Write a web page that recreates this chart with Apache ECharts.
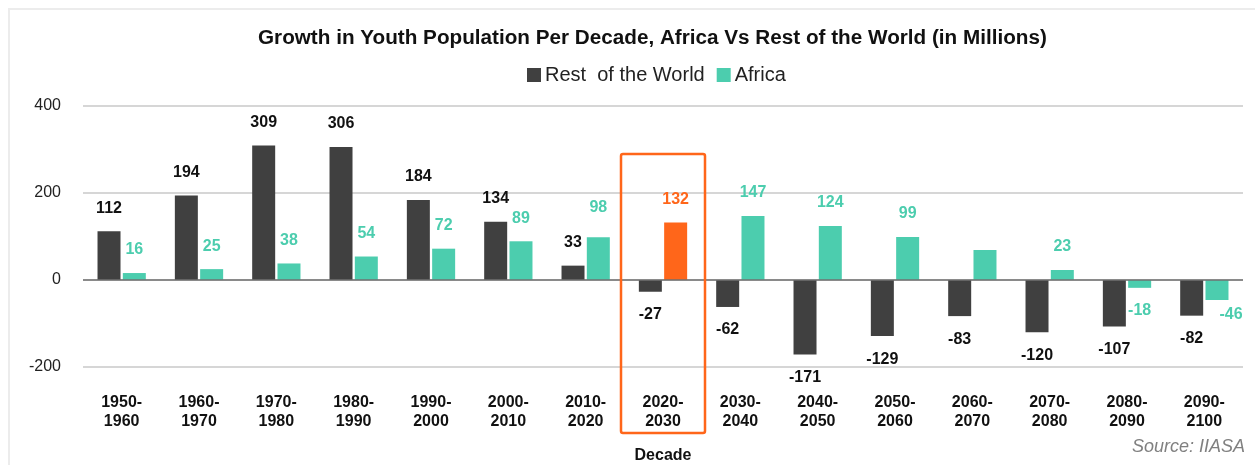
<!DOCTYPE html>
<html>
<head>
<meta charset="utf-8">
<title>Youth Population Growth</title>
<script src="https://cdn.jsdelivr.net/npm/echarts@6/dist/echarts.min.js"></script>
<style>
  html, body { margin: 0; padding: 0; background: #fff; }
  #frame { position: absolute; left: 8px; top: 8px; right: 0; bottom: 0; border-top: 2px solid #ececec; border-left: 2px solid #ececec; }
  #chart { position: absolute; left: 0; top: 0; width: 1255px; height: 465px; }
</style>
</head>
<body>
<div id="frame"></div>
<div id="chart"></div>
<script>
// data
const decades = ['1950-\n1960', '1960-\n1970', '1970-\n1980', '1980-\n1990', '1990-\n2000',
  '2000-\n2010', '2010-\n2020', '2020-\n2030', '2030-\n2040', '2040-\n2050', '2050-\n2060',
  '2060-\n2070', '2070-\n2080', '2080-\n2090', '2090-\n2100'];
const restOfWorld = [112, 194, 309, 306, 184, 134, 33, -27, -62, -171, -129, -83, -120, -107, -82];
const africa = [16, 25, 38, 54, 72, 89, 98, 132, 147, 124, 99, 69, 23, -18, -46];
const yTicks = [-200, 0, 200, 400];

const highlightIndex = 7; // 2020-2030
const unlabelledAfrica = [11]; // 2060-2070 has no label in the original

const DARK = '#404040';
const TEAL = '#4ccdae';
const ORANGE = '#ff661a';
const FONT = '"Liberation Sans", Arial, sans-serif';

const chart = echarts.init(document.getElementById('chart'), null, { renderer: 'canvas' });

const africaData = africa.map((v, i) => {
  const item = { value: v };
  if (i === highlightIndex) {
    item.itemStyle = { color: ORANGE };
    item.label = { color: ORANGE };
  }
  if (unlabelledAfrica.includes(i)) {
    item.label = { show: false };
  }
  if (v === -46) {
    item.label = { offset: [14, -8] };
  }
  if (v === 98) {
    item.label = { offset: [0, -7] };
  }
  return item;
});

const sourceText = {
  type: 'text',
  right: 10,
  top: 438,
  style: { text: 'Source: IIASA', font: 'italic 18px ' + FONT, fill: '#808080' }
};

chart.setOption({
  animation: false,
  textStyle: { fontFamily: FONT },
  title: {
    text: 'Growth in Youth Population Per Decade, Africa Vs Rest of the World (in Millions)',
    left: 253,
    top: 23,
    textStyle: { fontSize: 20.7, fontWeight: 'bold', color: '#111', fontFamily: FONT }
  },
  legend: {
    data: ['Rest  of the World', 'Africa'],
    left: 522,
    top: 60,
    icon: 'rect',
    itemWidth: 14,
    itemHeight: 14,
    itemGap: 12,
    textStyle: { fontSize: 20, color: '#222', padding: [0, 0, 0, -1] }
  },
  grid: { left: 83, right: 12, top: 106, bottom: 98, containLabel: false, outerBoundsMode: 'none' },
  xAxis: {
    type: 'category',
    data: decades,
    name: 'Decade',
    nameLocation: 'middle',
    nameGap: 81,
    nameTextStyle: { fontSize: 16, fontWeight: 'bold', color: '#111' },
    axisLine: { show: false },
    axisTick: { show: false },
    axisLabel: { interval: 0, fontSize: 16, fontWeight: 'bold', color: '#111', margin: 26, lineHeight: 19 }
  },
  yAxis: {
    type: 'value',
    min: yTicks[0],
    max: yTicks[yTicks.length - 1],
    interval: 200,
    axisLabel: { fontSize: 16, color: '#222', margin: 22 },
    splitLine: { lineStyle: { color: '#d6d6d6', width: 2 } }
  },
  series: [
    {
      name: 'Rest  of the World',
      type: 'bar',
      data: restOfWorld,
      barWidth: 23,
      barGap: '10%',
      itemStyle: { color: DARK },
      label: { show: true, position: 'outside', distance: 15, fontSize: 16, fontWeight: 'bold', color: '#111' },
      markLine: {
        silent: true,
        symbol: 'none',
        label: { show: false },
        lineStyle: { color: '#707070', width: 1.5, type: 'solid' },
        data: [{ yAxis: 0 }]
      }
    },
    {
      name: 'Africa',
      type: 'bar',
      data: africaData,
      barWidth: 23,
      itemStyle: { color: TEAL },
      label: { show: true, position: 'outside', distance: 15, fontSize: 16, fontWeight: 'bold', color: TEAL }
    }
  ],
  graphic: [sourceText]
});

// orange box round the 2020-2030 group, placed from the category axis
const cx = chart.convertToPixel({ xAxisIndex: 0 }, highlightIndex);
chart.setOption({
  graphic: [
    sourceText,
    {
      type: 'rect',
      shape: { x: cx - 42, y: 154, width: 84, height: 279, r: 2 },
      style: { fill: 'none', stroke: ORANGE, lineWidth: 2.5 },
      z: 10
    }
  ]
});
</script>
</body>
</html>
